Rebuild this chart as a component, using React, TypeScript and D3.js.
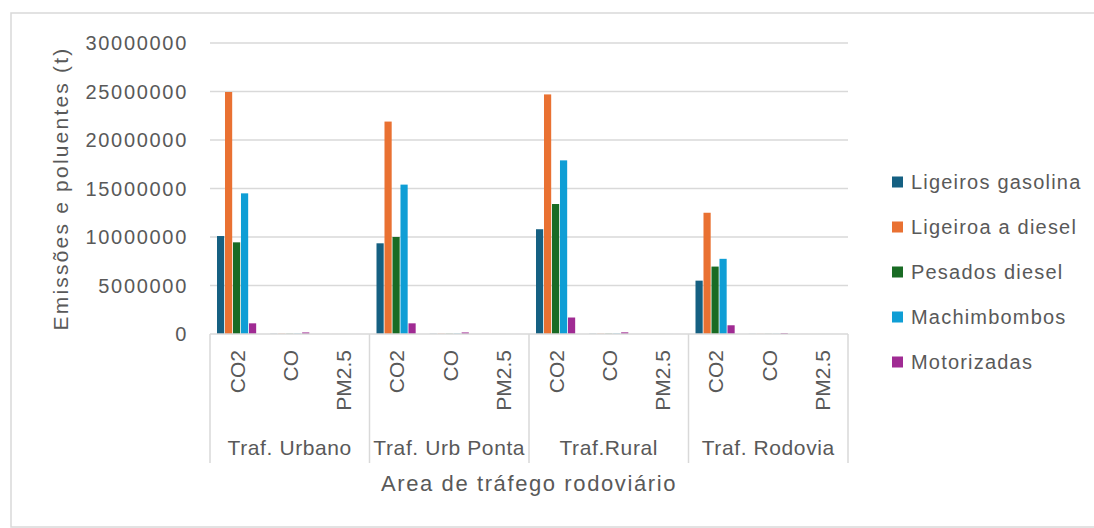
import React, { useEffect, useRef } from "react";
import * as d3 from "d3";

const areas = ["Traf. Urbano", "Traf. Urb Ponta", "Traf.Rural", "Traf. Rodovia"];
const pollutants = ["CO2", "CO", "PM2.5"];
const seriesNames = ["Ligeiros gasolina", "Ligeiroa a diesel", "Pesados diesel", "Machimbombos", "Motorizadas"];
const seriesColors = ["#156082", "#E97132", "#196B24", "#0F9ED5", "#A02B93"];
const yTicks = [0, 5000000, 10000000, 15000000, 20000000, 25000000, 30000000];

// values per area, in order CO2, CO, PM2.5
const ligeirosGasolina = [
  [10100000, 20000, 1000],
  [9350000, 20000, 1000],
  [10800000, 22000, 1000],
  [5500000, 12000, 600],
];
const ligeirosDiesel = [
  [24950000, 30000, 3000],
  [21900000, 28000, 3000],
  [24700000, 30000, 3000],
  [12500000, 15000, 1500],
];
const pesadosDiesel = [
  [9450000, 25000, 3000],
  [10000000, 26000, 3000],
  [13400000, 30000, 3500],
  [6950000, 16000, 1800],
];
const machimbombos = [
  [14500000, 30000, 3000],
  [15400000, 32000, 3000],
  [17900000, 36000, 3500],
  [7750000, 18000, 1800],
];
const motorizadas = [
  [1100000, 160000, 1500],
  [1100000, 160000, 1500],
  [1700000, 170000, 1800],
  [900000, 90000, 1000],
];
const seriesValues = [ligeirosGasolina, ligeirosDiesel, pesadosDiesel, machimbombos, motorizadas];

const W = 1094;
const H = 528;
const plot = { left: 210, right: 848, top: 43, bottom: 334 };
const textColor = "#595959";
const gridColor = "#d9d9d9";

export default function App() {
  const ref = useRef<SVGSVGElement>(null);

  useEffect(() => {
    const svg = d3.select(ref.current);
    svg.selectAll("*").remove();

    // outer border
    svg.append("rect")
      .attr("x", 11).attr("y", 13)
      .attr("width", W + 10).attr("height", 514)
      .attr("fill", "#fff")
      .attr("stroke", gridColor).attr("stroke-width", 1.5);

    const y = d3.scaleLinear().domain([0, 30000000]).range([plot.bottom, plot.top]);

    const slots: string[] = [];
    areas.forEach((a) => pollutants.forEach((p) => slots.push(a + "|" + p)));
    const x0 = d3.scaleBand<string>().domain(slots).range([plot.left, plot.right]).padding(0);
    const xg = d3.scaleBand<string>().domain(areas).range([plot.left, plot.right]).padding(0);
    const sw = x0.bandwidth();
    const x1 = d3.scaleBand<string>().domain(seriesNames).range([7.0, sw - 7.0]).paddingInner(0.1);

    // gridlines
    svg.append("g").selectAll("line").data(yTicks.filter((t) => t > 0)).join("line")
      .attr("x1", plot.left).attr("x2", plot.right)
      .attr("y1", (d) => y(d)).attr("y2", (d) => y(d))
      .attr("stroke", gridColor).attr("stroke-width", 1.5);

    // y tick labels
    svg.append("g").selectAll("text").data(yTicks).join("text")
      .attr("x", 188).attr("y", (d) => y(d))
      .attr("dy", "0.35em")
      .attr("text-anchor", "end")
      .attr("font-family", "Liberation Sans, Arial, sans-serif")
      .attr("font-size", 20)
      .attr("letter-spacing", 1.7)
      .attr("fill", textColor)
      .text((d) => String(d));

    // bars
    const bars: { s: number; a: number; p: number; v: number }[] = [];
    seriesValues.forEach((sv, s) => sv.forEach((row, a) => row.forEach((v, p) => bars.push({ s, a, p, v }))));
    svg.append("g").selectAll("rect").data(bars).join("rect")
      .attr("x", (d) => (x0(areas[d.a] + "|" + pollutants[d.p]) as number) + (x1(seriesNames[d.s]) as number))
      .attr("width", x1.bandwidth())
      .attr("y", (d) => y(d.v))
      .attr("height", (d) => plot.bottom - y(d.v))
      .attr("fill", (d) => seriesColors[d.s]);

    // category axis baseline and separators
    svg.append("line")
      .attr("x1", plot.left).attr("x2", plot.right)
      .attr("y1", plot.bottom).attr("y2", plot.bottom)
      .attr("stroke", gridColor).attr("stroke-width", 1.5);
    const seps = areas.map((a) => xg(a) as number).concat([plot.right]);
    svg.append("g").selectAll("line").data(seps).join("line")
      .attr("x1", (d) => d).attr("x2", (d) => d)
      .attr("y1", plot.bottom).attr("y2", 463)
      .attr("stroke", gridColor).attr("stroke-width", 1.5);

    // pollutant labels (rotated)
    svg.append("g").selectAll("text").data(slots).join("text")
      .attr("transform", (d) => `translate(${(x0(d) as number) + sw / 2 + 1},350) rotate(-90)`)
      .attr("dy", "0.35em")
      .attr("text-anchor", "end")
      .attr("font-family", "Liberation Sans, Arial, sans-serif")
      .attr("font-size", 21)
      .attr("fill", textColor)
      .text((d) => d.split("|")[1]);

    // area labels
    svg.append("g").selectAll("text").data(areas).join("text")
      .attr("x", (d) => (xg(d) as number) + xg.bandwidth() / 2)
      .attr("y", 455)
      .attr("text-anchor", "middle")
      .attr("font-family", "Liberation Sans, Arial, sans-serif")
      .attr("font-size", 21)
      .attr("letter-spacing", 0.6)
      .attr("fill", textColor)
      .text((d) => d);

    // x axis title
    svg.append("text")
      .attr("x", (plot.left + plot.right) / 2).attr("y", 491)
      .attr("text-anchor", "middle")
      .attr("font-family", "Liberation Sans, Arial, sans-serif")
      .attr("font-size", 22)
      .attr("letter-spacing", 1.6)
      .attr("fill", textColor)
      .text("Area de tráfego rodoviário");

    // y axis title
    svg.append("text")
      .attr("transform", `translate(61,${(plot.top + plot.bottom) / 2}) rotate(-90)`)
      .attr("dy", "0.35em")
      .attr("text-anchor", "middle")
      .attr("font-family", "Liberation Sans, Arial, sans-serif")
      .attr("font-size", 21)
      .attr("letter-spacing", 2.2)
      .attr("fill", textColor)
      .text("Emissões e poluentes (t)");

    // legend
    const lg = svg.append("g").selectAll("g").data(seriesNames).join("g")
      .attr("transform", (_d, i) => `translate(892,${182 + i * 45})`);
    lg.append("rect").attr("x", 0).attr("y", -5.5).attr("width", 11).attr("height", 11)
      .attr("fill", (_d, i) => seriesColors[i]);
    lg.append("text")
      .attr("x", 19).attr("y", 0).attr("dy", "0.35em")
      .attr("font-family", "Liberation Sans, Arial, sans-serif")
      .attr("font-size", 20)
      .attr("letter-spacing", 1.2)
      .attr("fill", textColor)
      .text((d) => d);
  }, []);

  return (
    <svg
      ref={ref}
      width={W}
      height={H}
      style={{ position: "absolute", left: 0, top: 0, background: "#fff" }}
    />
  );
}
